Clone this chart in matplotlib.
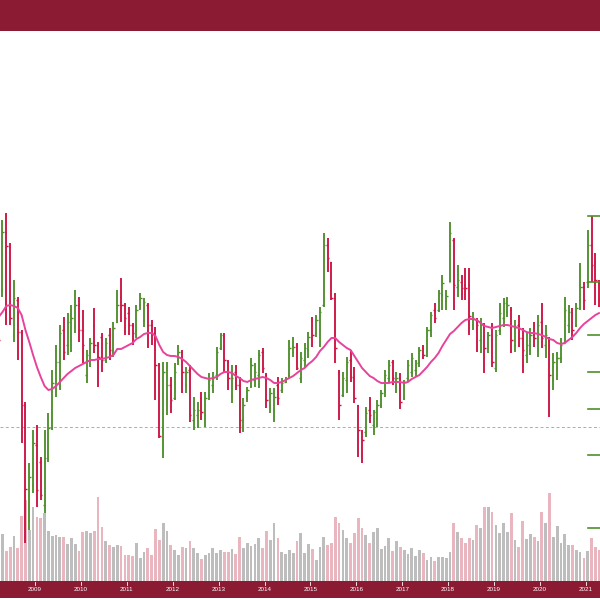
import matplotlib
matplotlib.use("Agg")
import matplotlib.pyplot as plt
from matplotlib.patches import Rectangle
import numpy as np
import pandas as pd

# ---------------- data (monthly OHLC, Mar 2008 .. Apr 2021) ----------------
months = pd.date_range("2008-03-01", periods=158, freq="MS")

high = [33.3, 38.0, 38.7, 35.7, 32.0, 30.3, 27.0, 19.8, 13.7, 17.0,
        17.5, 14.3, 17.0, 18.7, 23.0, 25.5, 27.5, 28.3, 28.7, 29.5, 31.0, 30.3,
        29.0, 25.0, 26.2, 29.2, 25.8, 26.7, 26.2, 27.2, 27.8, 31.0, 32.2, 29.7,
        29.3, 27.7, 29.5, 30.7, 30.2, 29.7, 28.0, 27.3, 23.7, 23.8, 23.8, 22.3,
        23.7, 25.5, 25.0, 23.3, 23.5, 20.3, 19.8, 20.8, 20.8, 22.7, 22.8, 25.3,
        26.7, 26.7, 24.0, 23.5, 23.5, 22.3, 20.2, 21.3, 24.2, 23.7, 25.0, 25.2,
        22.7, 21.2, 21.2, 22.3, 22.2, 22.3, 26.0, 26.3, 25.7, 24.8, 25.7, 26.8,
        28.3, 28.5, 29.3, 36.7, 36.2, 33.8, 30.7, 23.0, 22.8, 24.3, 25.0, 23.3,
        19.5, 17.0, 19.3, 20.3, 19.0, 20.0, 21.0, 23.0, 24.0, 24.0, 22.8, 22.7,
        22.0, 24.0, 24.7, 24.0, 25.3, 25.5, 27.3, 28.8, 29.7, 31.0, 32.5, 31.0,
        37.8, 36.2, 33.5, 32.5, 33.2, 33.2, 28.8, 28.2, 28.2, 27.7, 26.8, 27.7,
        27.0, 29.7, 30.2, 30.3, 29.3, 28.0, 28.5, 27.2, 26.7, 27.2, 27.8, 28.5,
        29.7, 27.5, 26.3, 24.7, 24.8, 26.2, 30.3, 29.5, 29.2, 29.7, 33.7, 31.8,
        37.0, 38.4, 34.7, 32.0]
low = [24.7, 30.3, 27.5, 27.5, 25.8, 24.0, 15.7, 5.7, 7.0, 10.7,
       9.3, 10.0, 8.7, 13.8, 17.0, 20.3, 21.0, 24.0, 24.5, 24.8, 26.7, 25.8,
       23.7, 21.7, 23.3, 24.7, 21.3, 22.8, 23.7, 24.0, 24.3, 27.7, 27.8, 26.5,
       26.5, 25.5, 26.2, 29.0, 27.3, 25.2, 25.5, 20.0, 16.2, 14.2, 18.5, 18.7,
       20.0, 23.5, 20.7, 20.7, 17.8, 17.0, 17.2, 18.0, 17.3, 20.0, 20.7, 22.0,
       25.0, 22.7, 21.0, 19.7, 21.0, 16.7, 16.8, 19.8, 21.2, 21.3, 21.2, 22.7,
       19.2, 18.7, 17.8, 19.5, 20.7, 21.7, 22.2, 24.3, 23.0, 21.7, 23.2, 24.2,
       25.3, 26.3, 25.3, 29.3, 32.8, 30.0, 23.7, 18.0, 20.3, 20.7, 21.8, 19.7,
       14.3, 13.7, 16.3, 17.7, 16.5, 17.3, 19.2, 20.3, 21.8, 21.5, 20.7, 19.1,
       20.0, 21.8, 22.3, 22.3, 23.3, 24.1, 24.3, 26.3, 27.7, 28.8, 29.0, 29.0,
       31.8, 29.0, 30.3, 30.0, 30.0, 26.5, 27.0, 24.8, 24.7, 22.7, 24.7, 23.3,
       22.8, 26.5, 27.3, 28.3, 24.7, 24.8, 25.3, 22.7, 23.7, 24.5, 25.3, 24.3,
       25.2, 24.2, 18.3, 21.0, 22.0, 23.7, 25.7, 26.7, 26.0, 27.3, 29.0, 29.0,
       31.2, 31.8, 29.5, 29.3]
open_ = [32.0, 31.0, 36.8, 35.3, 26.5, 30.0, 26.8, 19.5, 8.0, 11.5,
         15.5, 13.8, 9.5, 14.2, 17.2, 21.5, 23.8, 27.0, 25.5, 26.0, 27.4, 29.5,
         27.0, 22.5, 24.8, 27.5, 25.5, 26.3, 24.0, 26.5, 25.0, 27.8, 30.3, 29.5,
         28.7, 27.5, 27.0, 29.5, 28.0, 29.5, 27.5, 26.7, 23.5, 17.0, 20.2, 21.5,
         20.2, 24.0, 24.8, 21.5, 23.0, 18.0, 18.5, 20.2, 18.5, 20.5, 21.5, 22.5,
         25.2, 26.3, 23.8, 20.5, 22.8, 21.5, 18.0, 20.2, 22.0, 22.0, 22.5, 24.8,
         22.5, 19.5, 19.0, 21.5, 21.0, 21.8, 22.5, 24.8, 25.5, 22.2, 24.0, 25.0,
         28.0, 26.7, 27.0, 29.5, 35.5, 33.8, 30.2, 22.8, 20.5, 22.0, 24.0, 22.3,
         19.5, 16.8, 16.8, 19.0, 17.5, 18.2, 19.5, 21.0, 22.2, 23.8, 21.3, 22.2,
         20.2, 22.2, 22.8, 23.0, 23.8, 25.2, 25.0, 27.0, 29.0, 29.0, 30.5, 30.0,
         31.8, 36.0, 31.3, 31.8, 31.5, 31.5, 27.5, 28.0, 26.0, 27.5, 25.5, 27.3,
         23.2, 27.0, 28.2, 28.8, 29.0, 25.5, 27.5, 26.2, 24.5, 25.0, 26.7, 25.0,
         27.8, 25.5, 26.0, 22.0, 23.2, 24.2, 25.7, 27.5, 28.8, 27.5, 30.0, 31.3,
         31.8, 35.5, 33.8, 31.8]
close = [26.0, 36.8, 35.4, 28.2, 30.2, 26.8, 19.5, 11.1, 12.3, 15.7,
         11.0, 10.5, 14.2, 17.2, 21.7, 23.8, 26.7, 24.8, 27.8, 28.2, 29.5, 27.0,
         25.5, 24.5, 25.7, 25.5, 24.3, 24.0, 25.7, 25.0, 27.2, 29.5, 29.5, 28.2,
         27.5, 26.7, 29.0, 30.2, 29.8, 27.5, 26.7, 23.5, 16.4, 22.8, 21.5, 20.0,
         22.8, 24.8, 22.8, 22.8, 18.5, 19.0, 19.0, 18.8, 20.2, 22.0, 22.2, 24.8,
         26.5, 24.0, 22.2, 22.2, 21.5, 18.0, 19.5, 21.0, 23.5, 22.8, 24.5, 23.2,
         20.0, 20.7, 20.3, 20.2, 21.7, 22.2, 25.2, 25.3, 23.2, 24.2, 25.2, 26.3,
         26.5, 28.0, 28.8, 35.5, 34.2, 30.2, 25.2, 19.5, 22.2, 23.8, 22.3, 20.2,
         17.0, 16.0, 18.7, 18.5, 18.8, 19.5, 20.7, 22.5, 23.5, 22.2, 22.2, 19.8,
         21.8, 23.5, 24.2, 23.7, 25.0, 24.5, 27.0, 28.5, 28.2, 30.7, 31.7, 30.4,
         36.7, 31.5, 32.0, 31.2, 31.2, 28.4, 28.2, 27.5, 27.5, 25.2, 26.5, 23.8,
         26.5, 28.7, 29.7, 29.5, 26.0, 27.3, 26.2, 25.0, 25.5, 26.5, 26.2, 27.5,
         26.2, 26.5, 22.5, 23.8, 24.2, 25.5, 29.0, 28.8, 27.0, 29.2, 31.3, 30.0,
         35.5, 33.5, 32.0, 30.0]
volume = [50, 47, 30, 34, 45, 33, 65, 81, 51, 74,
          64, 63, 68, 50, 45, 46, 44, 44, 37, 43, 37, 30,
          49, 50, 48, 50, 84, 54, 40, 36, 34, 36, 35, 26,
          26, 25, 38, 23, 29, 33, 26, 52, 41, 58, 50, 36,
          31, 26, 34, 33, 40, 33, 28, 22, 26, 28, 33, 28,
          31, 29, 29, 32, 27, 44, 33, 38, 35, 37, 43, 33,
          50, 41, 58, 43, 29, 27, 31, 28, 40, 48, 28, 37,
          32, 21, 34, 44, 36, 38, 64, 58, 51, 43, 38, 48,
          63, 53, 46, 38, 49, 53, 32, 35, 43, 30, 40, 34,
          31, 27, 33, 25, 31, 28, 21, 24, 20, 24, 24, 23,
          29, 58, 49, 43, 38, 43, 41, 56, 53, 74, 74, 69,
          56, 48, 58, 49, 68, 41, 34, 60, 42, 47, 44, 40,
          69, 58, 88, 44, 55, 38, 47, 36, 36, 31, 29, 23,
          30, 43, 34, 31]
moving_avg = [28.3, 28.8, 29.4, 29.5, 29.4, 29.2, 28.5, 27.0, 25.8, 24.5,
              23.3, 22.3, 21.4, 21.0, 21.1, 21.4, 21.8, 22.2, 22.6, 22.9, 23.2, 23.4,
              23.6, 23.8, 24.0, 24.0, 24.1, 24.1, 24.2, 24.3, 24.5, 25.1, 25.1, 25.3,
              25.5, 25.7, 26.1, 26.3, 26.6, 26.7, 26.7, 26.4, 25.5, 24.8, 24.5, 24.4,
              24.4, 24.3, 24.1, 23.8, 23.4, 23.0, 22.6, 22.3, 22.2, 22.1, 22.2, 22.3,
              22.6, 22.8, 22.8, 22.7, 22.4, 22.2, 21.9, 21.8, 22.0, 22.1, 22.2, 22.3,
              22.2, 22.0, 21.7, 21.7, 21.8, 22.0, 22.2, 22.4, 22.7, 23.0, 23.2, 23.6,
              23.9, 24.3, 24.9, 25.3, 25.8, 26.2, 26.2, 25.8, 25.5, 25.2, 25.0, 24.4,
              23.8, 23.2, 22.8, 22.4, 22.2, 21.9, 21.7, 21.7, 21.7, 21.8, 21.8, 21.8,
              21.7, 21.8, 22.1, 22.3, 22.5, 22.9, 23.3, 23.8, 24.2, 24.7, 25.4, 26.0,
              26.6, 26.9, 27.3, 27.7, 28.0, 28.1, 28.1, 28.0, 27.7, 27.4, 27.3, 27.2,
              27.3, 27.4, 27.5, 27.5, 27.4, 27.3, 27.2, 27.0, 26.8, 26.7, 26.7, 26.6,
              26.5, 26.3, 26.1, 26.0, 25.7, 25.6, 25.7, 26.0, 26.3, 26.7, 27.2, 27.6,
              27.9, 28.2, 28.5, 28.7]
year_labels = ["2009", "2010", "2011", "2012", "2013", "2014", "2015",
               "2016", "2017", "2018", "2019", "2020", "2021"]
reference_level = 17.27
right_levels = [38.4, 31.8, 26.5, 22.8, 19.1, 14.5, 7.2]

# ---------------- style ----------------
GREEN = "#4f8f2c"
RED = "#cc1444"
PINK_VOL = "#e9b6bf"
GRAY_VOL = "#bdbdbd"
MA_COLOR = "#e8439b"
BANNER = "#8b1a33"

xs = np.array([m.year + (m.month - 0.5) / 12.0 for m in months])
o = np.array(open_); c = np.array(close); h = np.array(high); l = np.array(low)
up = c >= o
month_w = 1 / 12.0

fig = plt.figure(figsize=(6, 6), dpi=100)
fig.patch.set_facecolor("white")

xlim = (2008.2375, 2021.309)

# volume axes (behind)
axv = fig.add_axes([0, 19 / 600, 1, 100 / 600])
axv.set_xlim(*xlim)
axv.set_ylim(0, 100)
axv.bar(xs, volume, width=month_w * 0.72,
        color=[GRAY_VOL if u else PINK_VOL for u in up], linewidth=0)
axv.axis("off")

# price axes (front)
ax = fig.add_axes([0, 0, 1, 1])
ax.set_xlim(*xlim)
ax.set_ylim(0, 60)
ax.patch.set_alpha(0)
ax.axis("off")

ax.axhline(reference_level, color="#a7b0a3", lw=0.7, dashes=(3, 2.5), zorder=1)

cols = [GREEN if u else RED for u in up]
tick = month_w * 0.38
ax.vlines(xs, l, h, colors=cols, lw=1.35, zorder=3)
ax.hlines(o, xs - tick, xs, colors=cols, lw=1.0, zorder=3)
ax.hlines(c, xs, xs + tick, colors=cols, lw=1.0, zorder=3)

ax.plot(xs, moving_avg, color=MA_COLOR, lw=1.4, zorder=4, solid_capstyle="round")

for lev in right_levels:
    ax.axhline(lev, xmin=588 / 600, xmax=1, color=GREEN, lw=1.2, zorder=5)

# banners
fig.patches.append(Rectangle((0, 1 - 31 / 600), 1, 31 / 600, transform=fig.transFigure,
                             facecolor=BANNER, edgecolor="none", zorder=10))
fig.patches.append(Rectangle((0, 2 / 600), 1, 17 / 600, transform=fig.transFigure,
                             facecolor=BANNER, edgecolor="none", zorder=10))

for lab in year_labels:
    xv = float(lab)
    xf = (xv - xlim[0]) / (xlim[1] - xlim[0])
    fig.text(xf, 10.5 / 600, lab, color="white", fontsize=4.5, ha="center", va="center",
             family=["Liberation Sans", "DejaVu Sans"], zorder=11)
    fig.lines.append(plt.Line2D([xf, xf], [1 - 582 / 600, 1 - 585 / 600],
                                transform=fig.transFigure, color="white", lw=0.6, zorder=11))

fig.savefig("out.png", dpi=100)
